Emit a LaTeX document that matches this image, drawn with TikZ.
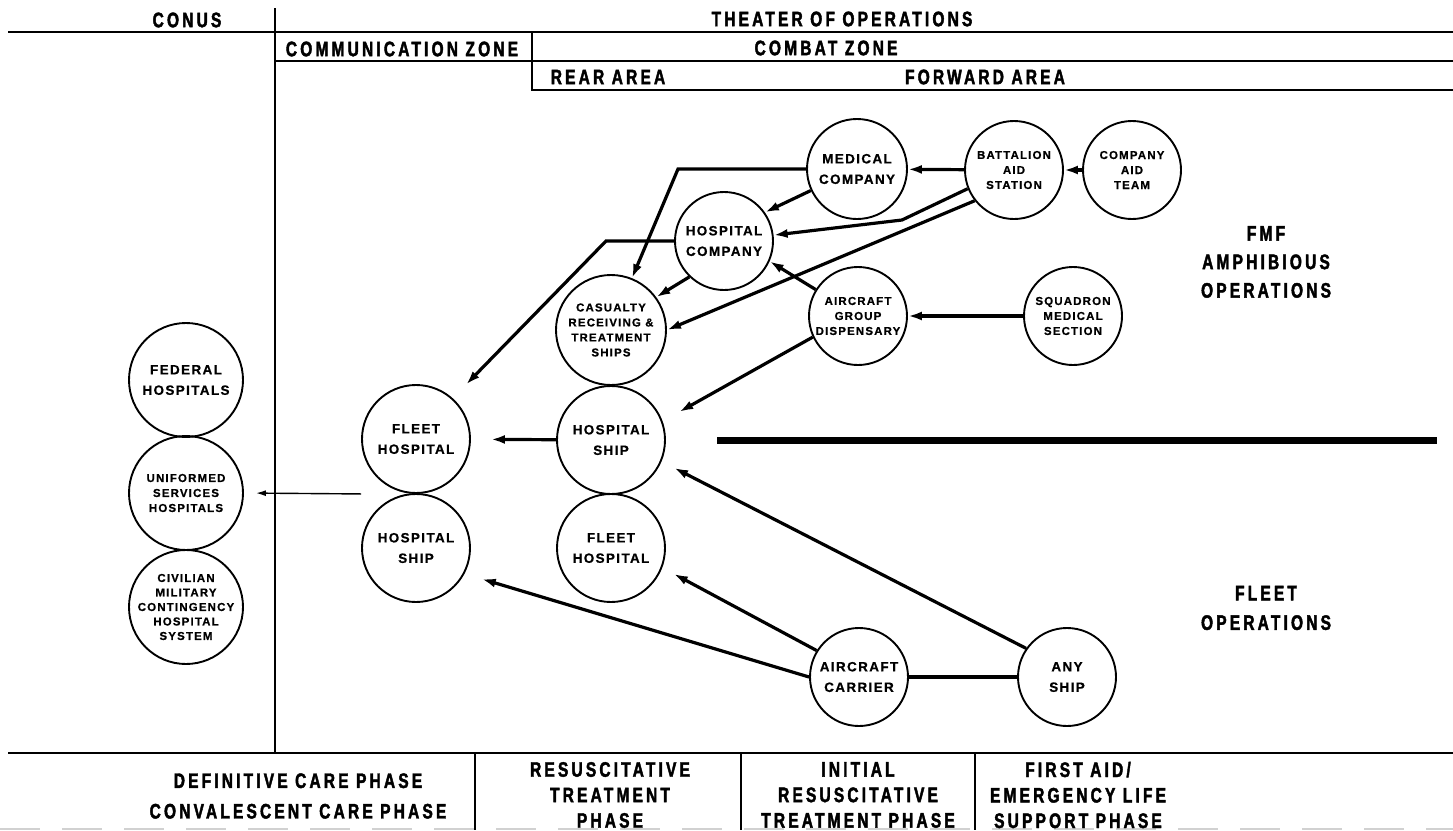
\documentclass[tikz,border=0pt]{standalone}
\usepackage{fontspec}
\setmainfont{Liberation Sans}
\newfontfamily\hdrfont{Liberation Sans}[FakeStretch=0.74,LetterSpace=15,FakeBold=2]
\newfontfamily\unitfont{Liberation Sans}[LetterSpace=10,FakeBold=0.6]
\usetikzlibrary{arrows.meta}

\tikzset{
  unit/.style={circle, draw, line width=1.9pt, minimum size=98pt, inner sep=-20pt, align=center,
    font=\unitfont\bfseries\fontsize{13.5}{20.5}\selectfont},
  unitsm/.style={unit, font=\unitfont\bfseries\fontsize{11.5}{15}\selectfont},
  zone/.style={font=\hdrfont\bfseries\fontsize{21}{25.5}\selectfont, inner sep=0pt, align=center},
  flow/.style={line width=3.2pt, -{Latex[length=14pt,width=9pt]}},
}

\begin{document}
\begin{tikzpicture}[x=1pt,y=-1pt]
                \useasboundingbox (0,0) rectangle (1453,830);

                % Zones along the top
                \draw[line width=1.6pt] (8,32) -- (1453,32);
                \draw[line width=1.6pt] (275,8) -- (275,753);
                \draw[line width=1.6pt] (275,61) -- (1453,61);
                \draw[line width=1.6pt] (532,32) -- (532,90) -- (1453,90);
                \node[zone] (conus) at (187,20) {CONUS};
                \node[zone] (theater) at (842,19) {THEATER OF OPERATIONS};
                \node[zone] (commz) at (402,49) {COMMUNICATION ZONE};
                \node[zone] (combat) at (826,48) {COMBAT ZONE};
                \node[zone] (rear) at (608,77) {REAR AREA};
                \node[zone] (fwd) at (985,77) {FORWARD AREA};

                % Phases along the bottom
                \draw[line width=1.6pt] (8,753) -- (1453,753);
                \draw[line width=1.3pt] (475,753) -- (475,830);
                \draw[line width=1.3pt] (741,753) -- (741,830);
                \draw[line width=1.3pt] (975,753) -- (975,830);
                \draw[black!18, line width=1.2pt, dash pattern=on 40pt off 22pt] (0,829) -- (1453,829);
                \node[zone] (defph) at (298,796) {DEFINITIVE CARE PHASE\\[5pt]CONVALESCENT CARE PHASE};
                \node[zone] (resph) at (610,795) {RESUSCITATIVE\\TREATMENT\\PHASE};
                \node[zone] (initph) at (858,795) {INITIAL\\RESUSCITATIVE\\TREATMENT PHASE};
                \node[zone] (faph) at (1078,795) {FIRST AID/\\EMERGENCY LIFE\\SUPPORT PHASE};

                % Side labels
                \node[zone] (fmf) at (1266,262) {FMF\\[3pt]AMPHIBIOUS\\[3pt]OPERATIONS};
                \node[zone] (fleet) at (1266,608) {FLEET\\[4pt]OPERATIONS};
                \draw[line width=7pt] (717,440) -- (1437,440);  % divides FMF from fleet

                % CONUS hospitals
                \node[unit, minimum size=114pt] (fed) at (186,380) {FEDERAL\\HOSPITALS};
                \node[unitsm, minimum size=114pt] (usvc) at (186,493) {UNIFORMED\\SERVICES\\HOSPITALS};
                \node[unitsm, minimum size=114pt, font=\unitfont\bfseries\fontsize{11.5}{14.5}\selectfont] (civ) at (186,607) {CIVILIAN\\MILITARY\\CONTINGENCY\\HOSPITAL\\SYSTEM};

                % Communication zone
                \node[unit, minimum size=108pt] (fhL) at (416,439) {FLEET\\HOSPITAL};
                \node[unit, minimum size=108pt] (hsL) at (416,548) {HOSPITAL\\SHIP};

                % Rear area
                \node[unitsm, minimum size=110pt] (crts) at (611,330) {CASUALTY\\RECEIVING \&\\TREATMENT\\SHIPS};
                \node[unit, minimum size=108pt] (hsM) at (611,440) {HOSPITAL\\SHIP};
                \node[unit, minimum size=108pt] (fhM) at (611,548) {FLEET\\HOSPITAL};
                \node[unit] (hco) at (724,241) {HOSPITAL\\COMPANY};

                % Forward area
                \node[unit, minimum size=100pt] (medco) at (857,169) {MEDICAL\\COMPANY};
                \node[unitsm] (bas) at (1014,170) {BATTALION\\AID\\STATION};
                \node[unitsm] (cat) at (1132,170) {COMPANY\\AID\\TEAM};
                \node[unitsm] (agd) at (858,316) {AIRCRAFT\\GROUP\\DISPENSARY};
                \node[unitsm] (sms) at (1073,316) {SQUADRON\\MEDICAL\\SECTION};
                \node[unit] (cv) at (859,677) {AIRCRAFT\\CARRIER};
                \node[unit] (any) at (1067,677) {ANY\\SHIP};

                % Evacuation, FMF side
                \coordinate (k1) at (678,169);
                \coordinate (k2) at (606,241);
                \coordinate (k3) at (902,220);
                \draw[flow] (cat) -- (bas);
                \draw[flow] (bas) -- (medco);
                \draw[flow] (bas.202) -- (k3) -- (hco);
                \draw[flow] (bas.218) -- (crts.east);
                \draw[flow] (medco.205) -- (hco.35);
                \draw[flow] (medco.west) -- (k1) -- (crts.68);
                \draw[flow] (hco.226) -- (crts.36);
                \draw[flow, shorten >=19pt] (hco.west) -- (k2) -- (fhL.48);
                \draw[flow] (sms) -- (agd);
                \draw[flow] (agd.148) -- (hco.336);
                \draw[flow, shorten >=19pt] (agd.205) -- (hsM.20);
                \draw[flow, shorten >=20pt] (hsM) -- (fhL);

                % Evacuation, fleet side
                \draw[line width=3.2pt] (cv) -- (any);
                \draw[flow, shorten >=14pt] (any.145) -- (hsM.337);
                \draw[flow, shorten >=13pt] (cv.148) -- (fhM.339);
                \draw[flow, shorten >=18pt] (cv.west) -- (hsL.332);

                % Back to CONUS
                \coordinate (jn) at (fhL.west |- fhL.south);
                \draw[line width=1.4pt, -{Latex[length=10pt,width=6pt]}, shorten >=12pt] (jn) -- (usvc.east);

            \end{tikzpicture}
\end{document}
